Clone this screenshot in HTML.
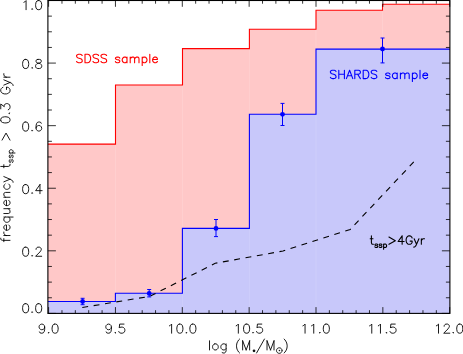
<!DOCTYPE html>
<html><head><meta charset="utf-8"><title>plot</title>
<style>html,body{margin:0;padding:0;background:#fff;font-family:"Liberation Sans",sans-serif;}svg{display:block}</style></head>
<body>
<svg width="463" height="354" viewBox="0 0 463 354">
<rect width="463" height="354" fill="#fff"/>
<path d="M47.9 313.4 L47.9 144.1 L115.5 144.1 L115.5 85.0 L182.5 85.0 L182.5 48.6 L249.4 48.6 L249.4 29.2 L316.0 29.2 L316.0 10.2 L382.5 10.2 L382.5 4.3 L449.9 4.3 L449.9 313.4 Z" fill="#ffc8c8"/>
<line x1="115.5" y1="144.1" x2="115.5" y2="313.4" stroke="#ffd1d1" stroke-width="0.8"/>
<line x1="182.5" y1="85.0" x2="182.5" y2="313.4" stroke="#ffd1d1" stroke-width="0.8"/>
<line x1="249.4" y1="48.6" x2="249.4" y2="313.4" stroke="#ffd1d1" stroke-width="0.8"/>
<line x1="316.0" y1="29.2" x2="316.0" y2="313.4" stroke="#ffd1d1" stroke-width="0.8"/>
<line x1="382.5" y1="10.2" x2="382.5" y2="313.4" stroke="#ffd1d1" stroke-width="0.8"/>
<path d="M47.9 313.4 L47.9 301.5 L115.4 301.5 L115.4 293.3 L182.4 293.3 L182.4 228.4 L249.4 228.4 L249.4 114.3 L316.0 114.3 L316.0 49.1 L449.9 49.1 L449.9 313.4 Z" fill="#c8c8fa"/>
<line x1="115.4" y1="301.5" x2="115.4" y2="313.4" stroke="#cfcffa" stroke-width="0.8"/>
<line x1="182.4" y1="293.3" x2="182.4" y2="313.4" stroke="#cfcffa" stroke-width="0.8"/>
<line x1="249.4" y1="228.4" x2="249.4" y2="313.4" stroke="#cfcffa" stroke-width="0.8"/>
<line x1="316.0" y1="114.3" x2="316.0" y2="313.4" stroke="#cfcffa" stroke-width="0.8"/>
<path d="M47.9 144.1 L115.5 144.1 L115.5 85.0 L182.5 85.0 L182.5 48.6 L249.4 48.6 L249.4 29.2 L316.0 29.2 L316.0 10.2 L382.5 10.2 L382.5 4.3 L449.9 4.3" fill="none" stroke="#ff0000" stroke-width="1.1"/>
<path d="M47.9 301.5 L115.4 301.5 L115.4 293.3 L182.4 293.3 L182.4 228.4 L249.4 228.4 L249.4 114.3 L316.0 114.3 L316.0 49.1 L449.9 49.1" fill="none" stroke="#0000ff" stroke-width="1.1"/>
<path d="M82.3 307.5 L149.6 296.4 L215.2 263.3 L283.0 251.0 L350.2 229.4 L416.5 159.0" fill="none" stroke="#000" stroke-width="1.1" stroke-dasharray="5.9 5.6"/>
<path d="M82.6 298.3 V304.7 M80.6 298.3 H84.6 M80.6 304.7 H84.6" stroke="#0000ff" stroke-width="1" fill="none"/>
<circle cx="82.6" cy="301.5" r="2.4" fill="#0000ff"/>
<path d="M149.2 289.5 V296.9 M147.2 289.5 H151.2 M147.2 296.9 H151.2" stroke="#0000ff" stroke-width="1" fill="none"/>
<circle cx="149.2" cy="293.4" r="2.4" fill="#0000ff"/>
<path d="M216.0 219.5 V236.6 M214.0 219.5 H218.0 M214.0 236.6 H218.0" stroke="#0000ff" stroke-width="1" fill="none"/>
<circle cx="216.0" cy="228.4" r="2.4" fill="#0000ff"/>
<path d="M282.5 103.4 V125.5 M280.5 103.4 H284.5 M280.5 125.5 H284.5" stroke="#0000ff" stroke-width="1" fill="none"/>
<circle cx="282.5" cy="114.3" r="2.4" fill="#0000ff"/>
<path d="M382.5 38.0 V62.9 M380.5 38.0 H384.5 M380.5 62.9 H384.5" stroke="#0000ff" stroke-width="1" fill="none"/>
<circle cx="382.5" cy="49.0" r="2.4" fill="#0000ff"/>
<rect x="47.9" y="0.5" width="402.0" height="312.9" fill="none" stroke="#000" stroke-width="1.1"/>
<path d="M48.60 313.40 v-6.30 M48.60 0.50 v6.30 M61.97 313.40 v-3.20 M61.97 0.50 v3.20 M75.34 313.40 v-3.20 M75.34 0.50 v3.20 M88.71 313.40 v-3.20 M88.71 0.50 v3.20 M102.08 313.40 v-3.20 M102.08 0.50 v3.20 M115.45 313.40 v-6.30 M115.45 0.50 v6.30 M128.82 313.40 v-3.20 M128.82 0.50 v3.20 M142.19 313.40 v-3.20 M142.19 0.50 v3.20 M155.56 313.40 v-3.20 M155.56 0.50 v3.20 M168.93 313.40 v-3.20 M168.93 0.50 v3.20 M182.30 313.40 v-6.30 M182.30 0.50 v6.30 M195.67 313.40 v-3.20 M195.67 0.50 v3.20 M209.04 313.40 v-3.20 M209.04 0.50 v3.20 M222.41 313.40 v-3.20 M222.41 0.50 v3.20 M235.78 313.40 v-3.20 M235.78 0.50 v3.20 M249.15 313.40 v-6.30 M249.15 0.50 v6.30 M262.52 313.40 v-3.20 M262.52 0.50 v3.20 M275.89 313.40 v-3.20 M275.89 0.50 v3.20 M289.26 313.40 v-3.20 M289.26 0.50 v3.20 M302.63 313.40 v-3.20 M302.63 0.50 v3.20 M316.00 313.40 v-6.30 M316.00 0.50 v6.30 M329.37 313.40 v-3.20 M329.37 0.50 v3.20 M342.74 313.40 v-3.20 M342.74 0.50 v3.20 M356.11 313.40 v-3.20 M356.11 0.50 v3.20 M369.48 313.40 v-3.20 M369.48 0.50 v3.20 M382.85 313.40 v-6.30 M382.85 0.50 v6.30 M396.22 313.40 v-3.20 M396.22 0.50 v3.20 M409.59 313.40 v-3.20 M409.59 0.50 v3.20 M422.96 313.40 v-3.20 M422.96 0.50 v3.20 M436.33 313.40 v-3.20 M436.33 0.50 v3.20 M449.70 313.40 v-6.30 M449.70 0.50 v6.30 M47.90 313.40 h8.00 M449.90 313.40 h-8.00 M47.90 297.75 h4.00 M449.90 297.75 h-4.00 M47.90 282.11 h4.00 M449.90 282.11 h-4.00 M47.90 266.46 h4.00 M449.90 266.46 h-4.00 M47.90 250.82 h8.00 M449.90 250.82 h-8.00 M47.90 235.17 h4.00 M449.90 235.17 h-4.00 M47.90 219.53 h4.00 M449.90 219.53 h-4.00 M47.90 203.88 h4.00 M449.90 203.88 h-4.00 M47.90 188.24 h8.00 M449.90 188.24 h-8.00 M47.90 172.59 h4.00 M449.90 172.59 h-4.00 M47.90 156.95 h4.00 M449.90 156.95 h-4.00 M47.90 141.31 h4.00 M449.90 141.31 h-4.00 M47.90 125.66 h8.00 M449.90 125.66 h-8.00 M47.90 110.01 h4.00 M449.90 110.01 h-4.00 M47.90 94.37 h4.00 M449.90 94.37 h-4.00 M47.90 78.72 h4.00 M449.90 78.72 h-4.00 M47.90 63.08 h8.00 M449.90 63.08 h-8.00 M47.90 47.44 h4.00 M449.90 47.44 h-4.00 M47.90 31.79 h4.00 M449.90 31.79 h-4.00 M47.90 16.14 h4.00 M449.90 16.14 h-4.00 M47.90 0.50 h8.00 M449.90 0.50 h-8.00" fill="none" stroke="#000" stroke-width="0.8"/>
<path d="M44.69 327.12 L44.26 328.43 L43.39 329.29 L42.09 329.73 L41.66 329.73 L40.35 329.29 L39.49 328.43 L39.05 327.12 L39.05 326.69 L39.49 325.39 L40.35 324.52 L41.66 324.09 L42.09 324.09 L43.39 324.52 L44.26 325.39 L44.69 327.12 L44.69 329.29 L44.26 331.46 L43.39 332.77 L42.09 333.20 L41.22 333.20 L39.92 332.77 L39.49 331.90 M48.60 332.33 L48.17 332.77 L48.60 333.20 L49.03 332.77 L48.60 332.33 M54.68 324.09 L53.37 324.52 L52.51 325.82 L52.07 327.99 L52.07 329.29 L52.51 331.46 L53.37 332.77 L54.68 333.20 L55.54 333.20 L56.85 332.77 L57.71 331.46 L58.15 329.29 L58.15 327.99 L57.71 325.82 L56.85 324.52 L55.54 324.09 L54.68 324.09 M111.41 327.12 L110.98 328.43 L110.11 329.29 L108.81 329.73 L108.38 329.73 L107.07 329.29 L106.21 328.43 L105.77 327.12 L105.77 326.69 L106.21 325.39 L107.07 324.52 L108.38 324.09 L108.81 324.09 L110.11 324.52 L110.98 325.39 L111.41 327.12 L111.41 329.29 L110.98 331.46 L110.11 332.77 L108.81 333.20 L107.94 333.20 L106.64 332.77 L106.21 331.90 M115.32 332.33 L114.89 332.77 L115.32 333.20 L115.75 332.77 L115.32 332.33 M124.00 324.09 L119.66 324.09 L119.23 327.99 L119.66 327.56 L120.96 327.12 L122.26 327.12 L123.57 327.56 L124.43 328.43 L124.87 329.73 L124.87 330.60 L124.43 331.90 L123.57 332.77 L122.26 333.20 L120.96 333.20 L119.66 332.77 L119.23 332.33 L118.79 331.46 M169.45 325.82 L170.32 325.39 L171.62 324.09 L171.62 333.20 M179.44 324.09 L178.13 324.52 L177.27 325.82 L176.83 327.99 L176.83 329.29 L177.27 331.46 L178.13 332.77 L179.44 333.20 L180.30 333.20 L181.61 332.77 L182.47 331.46 L182.91 329.29 L182.91 327.99 L182.47 325.82 L181.61 324.52 L180.30 324.09 L179.44 324.09 M186.38 332.33 L185.95 332.77 L186.38 333.20 L186.81 332.77 L186.38 332.33 M192.46 324.09 L191.15 324.52 L190.29 325.82 L189.85 327.99 L189.85 329.29 L190.29 331.46 L191.15 332.77 L192.46 333.20 L193.32 333.20 L194.63 332.77 L195.49 331.46 L195.93 329.29 L195.93 327.99 L195.49 325.82 L194.63 324.52 L193.32 324.09 L192.46 324.09 M236.17 325.82 L237.04 325.39 L238.34 324.09 L238.34 333.20 M246.16 324.09 L244.85 324.52 L243.99 325.82 L243.55 327.99 L243.55 329.29 L243.99 331.46 L244.85 332.77 L246.16 333.20 L247.02 333.20 L248.33 332.77 L249.19 331.46 L249.63 329.29 L249.63 327.99 L249.19 325.82 L248.33 324.52 L247.02 324.09 L246.16 324.09 M253.10 332.33 L252.67 332.77 L253.10 333.20 L253.53 332.77 L253.10 332.33 M261.78 324.09 L257.44 324.09 L257.01 327.99 L257.44 327.56 L258.74 327.12 L260.04 327.12 L261.35 327.56 L262.21 328.43 L262.65 329.73 L262.65 330.60 L262.21 331.90 L261.35 332.77 L260.04 333.20 L258.74 333.20 L257.44 332.77 L257.01 332.33 L256.57 331.46 M302.89 325.82 L303.76 325.39 L305.06 324.09 L305.06 333.20 M311.57 325.82 L312.44 325.39 L313.74 324.09 L313.74 333.20 M319.82 332.33 L319.39 332.77 L319.82 333.20 L320.25 332.77 L319.82 332.33 M325.90 324.09 L324.59 324.52 L323.73 325.82 L323.29 327.99 L323.29 329.29 L323.73 331.46 L324.59 332.77 L325.90 333.20 L326.76 333.20 L328.07 332.77 L328.93 331.46 L329.37 329.29 L329.37 327.99 L328.93 325.82 L328.07 324.52 L326.76 324.09 L325.90 324.09 M369.61 325.82 L370.48 325.39 L371.78 324.09 L371.78 333.20 M378.29 325.82 L379.16 325.39 L380.46 324.09 L380.46 333.20 M386.54 332.33 L386.11 332.77 L386.54 333.20 L386.97 332.77 L386.54 332.33 M395.22 324.09 L390.88 324.09 L390.45 327.99 L390.88 327.56 L392.18 327.12 L393.48 327.12 L394.79 327.56 L395.65 328.43 L396.09 329.73 L396.09 330.60 L395.65 331.90 L394.79 332.77 L393.48 333.20 L392.18 333.20 L390.88 332.77 L390.45 332.33 L390.01 331.46 M436.33 325.82 L437.20 325.39 L438.50 324.09 L438.50 333.20 M444.15 326.26 L444.15 325.82 L444.58 324.95 L445.01 324.52 L445.88 324.09 L447.62 324.09 L448.49 324.52 L448.92 324.95 L449.35 325.82 L449.35 326.69 L448.92 327.56 L448.05 328.86 L443.71 333.20 L449.79 333.20 M453.26 332.33 L452.83 332.77 L453.26 333.20 L453.69 332.77 L453.26 332.33 M459.34 324.09 L458.03 324.52 L457.17 325.82 L456.73 327.99 L456.73 329.29 L457.17 331.46 L458.03 332.77 L459.34 333.20 L460.20 333.20 L461.51 332.77 L462.37 331.46 L462.81 329.29 L462.81 327.99 L462.37 325.82 L461.51 324.52 L460.20 324.09 L459.34 324.09 M25.21 303.69 L23.90 304.12 L23.04 305.42 L22.60 307.59 L22.60 308.89 L23.04 311.06 L23.90 312.37 L25.21 312.80 L26.07 312.80 L27.38 312.37 L28.24 311.06 L28.68 308.89 L28.68 307.59 L28.24 305.42 L27.38 304.12 L26.07 303.69 L25.21 303.69 M32.15 311.93 L31.72 312.37 L32.15 312.80 L32.58 312.37 L32.15 311.93 M38.23 303.69 L36.92 304.12 L36.06 305.42 L35.62 307.59 L35.62 308.89 L36.06 311.06 L36.92 312.37 L38.23 312.80 L39.09 312.80 L40.40 312.37 L41.26 311.06 L41.70 308.89 L41.70 307.59 L41.26 305.42 L40.40 304.12 L39.09 303.69 L38.23 303.69 M25.21 247.16 L23.90 247.59 L23.04 248.89 L22.60 251.06 L22.60 252.36 L23.04 254.53 L23.90 255.84 L25.21 256.27 L26.07 256.27 L27.38 255.84 L28.24 254.53 L28.68 252.36 L28.68 251.06 L28.24 248.89 L27.38 247.59 L26.07 247.16 L25.21 247.16 M32.15 255.40 L31.72 255.84 L32.15 256.27 L32.58 255.84 L32.15 255.40 M36.06 249.33 L36.06 248.89 L36.49 248.02 L36.92 247.59 L37.79 247.16 L39.53 247.16 L40.40 247.59 L40.83 248.02 L41.26 248.89 L41.26 249.76 L40.83 250.63 L39.96 251.93 L35.62 256.27 L41.70 256.27 M25.21 184.58 L23.90 185.01 L23.04 186.31 L22.60 188.48 L22.60 189.78 L23.04 191.95 L23.90 193.26 L25.21 193.69 L26.07 193.69 L27.38 193.26 L28.24 191.95 L28.68 189.78 L28.68 188.48 L28.24 186.31 L27.38 185.01 L26.07 184.58 L25.21 184.58 M32.15 192.82 L31.72 193.26 L32.15 193.69 L32.58 193.26 L32.15 192.82 M39.96 184.58 L35.62 190.65 L42.13 190.65 M39.96 184.58 L39.96 193.69 M25.21 122.00 L23.90 122.43 L23.04 123.73 L22.60 125.90 L22.60 127.20 L23.04 129.37 L23.90 130.68 L25.21 131.11 L26.07 131.11 L27.38 130.68 L28.24 129.37 L28.68 127.20 L28.68 125.90 L28.24 123.73 L27.38 122.43 L26.07 122.00 L25.21 122.00 M32.15 130.24 L31.72 130.68 L32.15 131.11 L32.58 130.68 L32.15 130.24 M41.26 123.30 L40.83 122.43 L39.53 122.00 L38.66 122.00 L37.36 122.43 L36.49 123.73 L36.06 125.90 L36.06 128.07 L36.49 129.81 L37.36 130.68 L38.66 131.11 L39.09 131.11 L40.40 130.68 L41.26 129.81 L41.70 128.51 L41.70 128.07 L41.26 126.77 L40.40 125.90 L39.09 125.47 L38.66 125.47 L37.36 125.90 L36.49 126.77 L36.06 128.07 M25.21 59.42 L23.90 59.85 L23.04 61.15 L22.60 63.32 L22.60 64.62 L23.04 66.79 L23.90 68.10 L25.21 68.53 L26.07 68.53 L27.38 68.10 L28.24 66.79 L28.68 64.62 L28.68 63.32 L28.24 61.15 L27.38 59.85 L26.07 59.42 L25.21 59.42 M32.15 67.66 L31.72 68.10 L32.15 68.53 L32.58 68.10 L32.15 67.66 M37.79 59.42 L36.49 59.85 L36.06 60.72 L36.06 61.59 L36.49 62.45 L37.36 62.89 L39.09 63.32 L40.40 63.76 L41.26 64.62 L41.70 65.49 L41.70 66.79 L41.26 67.66 L40.83 68.10 L39.53 68.53 L37.79 68.53 L36.49 68.10 L36.06 67.66 L35.62 66.79 L35.62 65.49 L36.06 64.62 L36.92 63.76 L38.23 63.32 L39.96 62.89 L40.83 62.45 L41.26 61.59 L41.26 60.72 L40.83 59.85 L39.53 59.42 L37.79 59.42 M23.90 2.32 L24.77 1.89 L26.07 0.59 L26.07 9.70 M32.15 8.83 L31.72 9.27 L32.15 9.70 L32.58 9.27 L32.15 8.83 M38.23 0.59 L36.92 1.02 L36.06 2.32 L35.62 4.49 L35.62 5.79 L36.06 7.96 L36.92 9.27 L38.23 9.70 L39.09 9.70 L40.40 9.27 L41.26 7.96 L41.70 5.79 L41.70 4.49 L41.26 2.32 L40.40 1.02 L39.09 0.59 L38.23 0.59" fill="none" stroke="#000" stroke-width="0.9" stroke-linecap="round" stroke-linejoin="round"/>
<path d="M209.52 340.79 L209.52 349.95 M214.75 343.85 L213.88 344.28 L213.00 345.15 L212.57 346.46 L212.57 347.33 L213.00 348.64 L213.88 349.51 L214.75 349.95 L216.06 349.95 L216.93 349.51 L217.80 348.64 L218.24 347.33 L218.24 346.46 L217.80 345.15 L216.93 344.28 L216.06 343.85 L214.75 343.85 M226.08 343.85 L226.08 350.82 L225.65 352.13 L225.21 352.57 L224.34 353.00 L223.03 353.00 L222.16 352.57 M226.08 345.15 L225.21 344.28 L224.34 343.85 L223.03 343.85 L222.16 344.28 L221.29 345.15 L220.85 346.46 L220.85 347.33 L221.29 348.64 L222.16 349.51 L223.03 349.95 L224.34 349.95 L225.21 349.51 L226.08 348.64 M239.60 339.05 L238.73 339.92 L237.86 341.23 L236.98 342.97 L236.55 345.15 L236.55 346.90 L236.98 349.08 L237.86 350.82 L238.73 352.13 L239.60 353.00 M242.65 340.79 L242.65 349.95 M242.65 340.79 L246.14 349.95 M249.63 340.79 L246.14 349.95 M249.63 340.79 L249.63 349.95 M264.42 339.05 L256.57 353.00 M267.03 340.79 L267.03 349.95 M267.03 340.79 L270.52 349.95 M274.01 340.79 L270.52 349.95 M274.01 340.79 L274.01 349.95 M282.05 350.57 L281.96 351.29 L281.68 351.96 L281.23 352.54 L280.66 352.98 L279.99 353.26 L279.27 353.35 L278.54 353.26 L277.87 352.98 L277.30 352.54 L276.86 351.96 L276.58 351.29 L276.48 350.57 L276.58 349.85 L276.86 349.18 L277.30 348.60 L277.87 348.16 L278.54 347.88 L279.27 347.78 L279.99 347.88 L280.66 348.16 L281.23 348.60 L281.68 349.18 L281.96 349.85 L282.05 350.57 M279.59 350.57 L279.50 350.80 L279.27 350.89 L279.04 350.80 L278.94 350.57 L279.04 350.34 L279.27 350.24 L279.50 350.34 L279.59 350.57 M284.09 339.05 L284.96 339.92 L285.83 341.23 L286.70 342.97 L287.14 345.15 L287.14 346.90 L286.70 349.08 L285.83 350.82 L284.96 352.13 L284.09 353.00" fill="none" stroke="#000" stroke-width="0.9" stroke-linecap="round" stroke-linejoin="round"/>
<circle cx="254.03" cy="350.87" r="1.35" fill="#111"/>
<path transform="translate(10.0 157.9) rotate(-90)" d="M-80.27 -9.24 L-81.15 -9.24 L-82.03 -8.80 L-82.47 -7.48 L-82.47 0.00 M-83.79 -6.16 L-80.71 -6.16 M-77.63 -6.16 L-77.63 0.00 M-77.63 -3.52 L-77.19 -4.84 L-76.31 -5.72 L-75.43 -6.16 L-74.11 -6.16 M-72.35 -3.52 L-67.07 -3.52 L-67.07 -4.40 L-67.51 -5.28 L-67.95 -5.72 L-68.83 -6.16 L-70.15 -6.16 L-71.03 -5.72 L-71.91 -4.84 L-72.35 -3.52 L-72.35 -2.64 L-71.91 -1.32 L-71.03 -0.44 L-70.15 0.00 L-68.83 0.00 L-67.95 -0.44 L-67.07 -1.32 M-59.15 -6.16 L-59.15 3.08 M-59.15 -4.84 L-60.03 -5.72 L-60.91 -6.16 L-62.23 -6.16 L-63.11 -5.72 L-63.99 -4.84 L-64.43 -3.52 L-64.43 -2.64 L-63.99 -1.32 L-63.11 -0.44 L-62.23 0.00 L-60.91 0.00 L-60.03 -0.44 L-59.15 -1.32 M-55.63 -6.16 L-55.63 -1.76 L-55.19 -0.44 L-54.31 0.00 L-52.99 0.00 L-52.11 -0.44 L-50.79 -1.76 M-50.79 -6.16 L-50.79 0.00 M-47.71 -3.52 L-42.43 -3.52 L-42.43 -4.40 L-42.87 -5.28 L-43.31 -5.72 L-44.19 -6.16 L-45.51 -6.16 L-46.39 -5.72 L-47.27 -4.84 L-47.71 -3.52 L-47.71 -2.64 L-47.27 -1.32 L-46.39 -0.44 L-45.51 0.00 L-44.19 0.00 L-43.31 -0.44 L-42.43 -1.32 M-39.35 -6.16 L-39.35 0.00 M-39.35 -4.40 L-38.03 -5.72 L-37.15 -6.16 L-35.83 -6.16 L-34.95 -5.72 L-34.51 -4.40 L-34.51 0.00 M-26.15 -4.84 L-27.03 -5.72 L-27.91 -6.16 L-29.23 -6.16 L-30.11 -5.72 L-30.99 -4.84 L-31.43 -3.52 L-31.43 -2.64 L-30.99 -1.32 L-30.11 -0.44 L-29.23 0.00 L-27.91 0.00 L-27.03 -0.44 L-26.15 -1.32 M-23.95 -6.16 L-21.31 0.00 M-18.67 -6.16 L-21.31 0.00 L-22.19 1.76 L-23.07 2.64 L-23.95 3.08 L-24.39 3.08 M-8.55 -9.24 L-8.55 -1.76 L-8.11 -0.44 L-7.23 0.00 L-6.35 0.00 M-9.87 -6.16 L-6.79 -6.16 M-1.65 0.08 L-1.92 -0.47 L-2.74 -0.74 L-3.56 -0.74 L-4.38 -0.47 L-4.65 0.08 L-4.38 0.62 L-3.83 0.90 L-2.47 1.17 L-1.92 1.44 L-1.65 1.99 L-1.65 2.26 L-1.92 2.81 L-2.74 3.08 L-3.56 3.08 L-4.38 2.81 L-4.65 2.26 M2.99 0.08 L2.71 -0.47 L1.90 -0.74 L1.08 -0.74 L0.26 -0.47 L-0.01 0.08 L0.26 0.62 L0.81 0.90 L2.17 1.17 L2.71 1.44 L2.99 1.99 L2.99 2.26 L2.71 2.81 L1.90 3.08 L1.08 3.08 L0.26 2.81 L-0.01 2.26 M4.90 -0.74 L4.90 4.99 M4.90 0.08 L5.44 -0.47 L5.99 -0.74 L6.81 -0.74 L7.35 -0.47 L7.90 0.08 L8.17 0.90 L8.17 1.44 L7.90 2.26 L7.35 2.81 L6.81 3.08 L5.99 3.08 L5.44 2.81 L4.90 2.26 M17.79 -7.92 L24.83 -3.96 L17.79 0.00 M37.59 -9.24 L36.27 -8.80 L35.39 -7.48 L34.95 -5.28 L34.95 -3.96 L35.39 -1.76 L36.27 -0.44 L37.59 0.00 L38.47 0.00 L39.79 -0.44 L40.67 -1.76 L41.11 -3.96 L41.11 -5.28 L40.67 -7.48 L39.79 -8.80 L38.47 -9.24 L37.59 -9.24 M44.63 -0.88 L44.19 -0.44 L44.63 0.00 L45.07 -0.44 L44.63 -0.88 M49.03 -9.24 L53.87 -9.24 L51.23 -5.72 L52.55 -5.72 L53.43 -5.28 L53.87 -4.84 L54.31 -3.52 L54.31 -2.64 L53.87 -1.32 L52.99 -0.44 L51.67 0.00 L50.35 0.00 L49.03 -0.44 L48.59 -0.88 L48.15 -1.76 M70.59 -7.04 L70.15 -7.92 L69.27 -8.80 L68.39 -9.24 L66.63 -9.24 L65.75 -8.80 L64.87 -7.92 L64.43 -7.04 L63.99 -5.72 L63.99 -3.52 L64.43 -2.20 L64.87 -1.32 L65.75 -0.44 L66.63 0.00 L68.39 0.00 L69.27 -0.44 L70.15 -1.32 L70.59 -2.20 L70.59 -3.52 M68.39 -3.52 L70.59 -3.52 M72.79 -6.16 L75.43 0.00 M78.07 -6.16 L75.43 0.00 L74.55 1.76 L73.67 2.64 L72.79 3.08 L72.35 3.08 M80.71 -6.16 L80.71 0.00 M80.71 -3.52 L81.15 -4.84 L82.03 -5.72 L82.91 -6.16 L84.23 -6.16" fill="none" stroke="#000" stroke-width="0.9" stroke-linecap="round" stroke-linejoin="round"/>
<path d="M82.20 55.50 L81.40 54.70 L80.20 54.30 L78.60 54.30 L77.40 54.70 L76.60 55.50 L76.60 56.30 L77.00 57.10 L77.40 57.50 L78.20 57.90 L80.60 58.70 L81.40 59.10 L81.80 59.50 L82.20 60.30 L82.20 61.50 L81.40 62.30 L80.20 62.70 L78.60 62.70 L77.40 62.30 L76.60 61.50 M85.00 54.30 L85.00 62.70 M85.00 54.30 L87.80 54.30 L89.00 54.70 L89.80 55.50 L90.20 56.30 L90.60 57.50 L90.60 59.50 L90.20 60.70 L89.80 61.50 L89.00 62.30 L87.80 62.70 L85.00 62.70 M98.60 55.50 L97.80 54.70 L96.60 54.30 L95.00 54.30 L93.80 54.70 L93.00 55.50 L93.00 56.30 L93.40 57.10 L93.80 57.50 L94.60 57.90 L97.00 58.70 L97.80 59.10 L98.20 59.50 L98.60 60.30 L98.60 61.50 L97.80 62.30 L96.60 62.70 L95.00 62.70 L93.80 62.30 L93.00 61.50 M106.60 55.50 L105.80 54.70 L104.60 54.30 L103.00 54.30 L101.80 54.70 L101.00 55.50 L101.00 56.30 L101.40 57.10 L101.80 57.50 L102.60 57.90 L105.00 58.70 L105.80 59.10 L106.20 59.50 L106.60 60.30 L106.60 61.50 L105.80 62.30 L104.60 62.70 L103.00 62.70 L101.80 62.30 L101.00 61.50 M119.80 58.30 L119.40 57.50 L118.20 57.10 L117.00 57.10 L115.80 57.50 L115.40 58.30 L115.80 59.10 L116.60 59.50 L118.60 59.90 L119.40 60.30 L119.80 61.10 L119.80 61.50 L119.40 62.30 L118.20 62.70 L117.00 62.70 L115.80 62.30 L115.40 61.50 M127.00 57.10 L127.00 62.70 M127.00 58.30 L126.20 57.50 L125.40 57.10 L124.20 57.10 L123.40 57.50 L122.60 58.30 L122.20 59.50 L122.20 60.30 L122.60 61.50 L123.40 62.30 L124.20 62.70 L125.40 62.70 L126.20 62.30 L127.00 61.50 M130.20 57.10 L130.20 62.70 M130.20 58.70 L131.40 57.50 L132.20 57.10 L133.40 57.10 L134.20 57.50 L134.60 58.70 L134.60 62.70 M134.60 58.70 L135.80 57.50 L136.60 57.10 L137.80 57.10 L138.60 57.50 L139.00 58.70 L139.00 62.70 M142.20 57.10 L142.20 65.50 M142.20 58.30 L143.00 57.50 L143.80 57.10 L145.00 57.10 L145.80 57.50 L146.60 58.30 L147.00 59.50 L147.00 60.30 L146.60 61.50 L145.80 62.30 L145.00 62.70 L143.80 62.70 L143.00 62.30 L142.20 61.50 M149.80 54.30 L149.80 62.70 M152.60 59.50 L157.40 59.50 L157.40 58.70 L157.00 57.90 L156.60 57.50 L155.80 57.10 L154.60 57.10 L153.80 57.50 L153.00 58.30 L152.60 59.50 L152.60 60.30 L153.00 61.50 L153.80 62.30 L154.60 62.70 L155.80 62.70 L156.60 62.30 L157.40 61.50" fill="none" stroke="#ff0000" stroke-width="1.1" stroke-linecap="round" stroke-linejoin="round"/>
<path d="M336.00 71.40 L335.20 70.60 L334.00 70.20 L332.40 70.20 L331.20 70.60 L330.40 71.40 L330.40 72.20 L330.80 73.00 L331.20 73.40 L332.00 73.80 L334.40 74.60 L335.20 75.00 L335.60 75.40 L336.00 76.20 L336.00 77.40 L335.20 78.20 L334.00 78.60 L332.40 78.60 L331.20 78.20 L330.40 77.40 M338.80 70.20 L338.80 78.60 M344.40 70.20 L344.40 78.60 M338.80 74.20 L344.40 74.20 M349.60 70.20 L346.40 78.60 M349.60 70.20 L352.80 78.60 M347.60 75.80 L351.60 75.80 M354.80 70.20 L354.80 78.60 M354.80 70.20 L358.40 70.20 L359.60 70.60 L360.00 71.00 L360.40 71.80 L360.40 72.60 L360.00 73.40 L359.60 73.80 L358.40 74.20 L354.80 74.20 M357.60 74.20 L360.40 78.60 M363.20 70.20 L363.20 78.60 M363.20 70.20 L366.00 70.20 L367.20 70.60 L368.00 71.40 L368.40 72.20 L368.80 73.40 L368.80 75.40 L368.40 76.60 L368.00 77.40 L367.20 78.20 L366.00 78.60 L363.20 78.60 M376.80 71.40 L376.00 70.60 L374.80 70.20 L373.20 70.20 L372.00 70.60 L371.20 71.40 L371.20 72.20 L371.60 73.00 L372.00 73.40 L372.80 73.80 L375.20 74.60 L376.00 75.00 L376.40 75.40 L376.80 76.20 L376.80 77.40 L376.00 78.20 L374.80 78.60 L373.20 78.60 L372.00 78.20 L371.20 77.40 M390.00 74.20 L389.60 73.40 L388.40 73.00 L387.20 73.00 L386.00 73.40 L385.60 74.20 L386.00 75.00 L386.80 75.40 L388.80 75.80 L389.60 76.20 L390.00 77.00 L390.00 77.40 L389.60 78.20 L388.40 78.60 L387.20 78.60 L386.00 78.20 L385.60 77.40 M397.20 73.00 L397.20 78.60 M397.20 74.20 L396.40 73.40 L395.60 73.00 L394.40 73.00 L393.60 73.40 L392.80 74.20 L392.40 75.40 L392.40 76.20 L392.80 77.40 L393.60 78.20 L394.40 78.60 L395.60 78.60 L396.40 78.20 L397.20 77.40 M400.40 73.00 L400.40 78.60 M400.40 74.60 L401.60 73.40 L402.40 73.00 L403.60 73.00 L404.40 73.40 L404.80 74.60 L404.80 78.60 M404.80 74.60 L406.00 73.40 L406.80 73.00 L408.00 73.00 L408.80 73.40 L409.20 74.60 L409.20 78.60 M412.40 73.00 L412.40 81.40 M412.40 74.20 L413.20 73.40 L414.00 73.00 L415.20 73.00 L416.00 73.40 L416.80 74.20 L417.20 75.40 L417.20 76.20 L416.80 77.40 L416.00 78.20 L415.20 78.60 L414.00 78.60 L413.20 78.20 L412.40 77.40 M420.00 70.20 L420.00 78.60 M422.80 75.40 L427.60 75.40 L427.60 74.60 L427.20 73.80 L426.80 73.40 L426.00 73.00 L424.80 73.00 L424.00 73.40 L423.20 74.20 L422.80 75.40 L422.80 76.20 L423.20 77.40 L424.00 78.20 L424.80 78.60 L426.00 78.60 L426.80 78.20 L427.60 77.40" fill="none" stroke="#0000ff" stroke-width="1.1" stroke-linecap="round" stroke-linejoin="round"/>
<path d="M371.40 235.90 L371.40 242.70 L371.80 243.90 L372.60 244.30 L373.40 244.30 M370.20 238.70 L373.00 238.70 M377.67 244.77 L377.42 244.28 L376.68 244.03 L375.94 244.03 L375.19 244.28 L374.94 244.77 L375.19 245.27 L375.69 245.52 L376.93 245.76 L377.42 246.01 L377.67 246.51 L377.67 246.76 L377.42 247.25 L376.68 247.50 L375.94 247.50 L375.19 247.25 L374.94 246.76 M381.89 244.77 L381.64 244.28 L380.90 244.03 L380.15 244.03 L379.41 244.28 L379.16 244.77 L379.41 245.27 L379.90 245.52 L381.14 245.76 L381.64 246.01 L381.89 246.51 L381.89 246.76 L381.64 247.25 L380.90 247.50 L380.15 247.50 L379.41 247.25 L379.16 246.76 M383.62 244.03 L383.62 249.24 M383.62 244.77 L384.12 244.28 L384.62 244.03 L385.36 244.03 L385.86 244.28 L386.35 244.77 L386.60 245.52 L386.60 246.01 L386.35 246.76 L385.86 247.25 L385.36 247.50 L384.62 247.50 L384.12 247.25 L383.62 246.76 M388.94 237.10 L395.34 240.70 L388.94 244.30 M402.14 235.90 L398.14 241.50 L404.14 241.50 M402.14 235.90 L402.14 244.30 M412.14 237.90 L411.74 237.10 L410.94 236.30 L410.14 235.90 L408.54 235.90 L407.74 236.30 L406.94 237.10 L406.54 237.90 L406.14 239.10 L406.14 241.10 L406.54 242.30 L406.94 243.10 L407.74 243.90 L408.54 244.30 L410.14 244.30 L410.94 243.90 L411.74 243.10 L412.14 242.30 L412.14 241.10 M410.14 241.10 L412.14 241.10 M414.14 238.70 L416.54 244.30 M418.94 238.70 L416.54 244.30 L415.74 245.90 L414.94 246.70 L414.14 247.10 L413.74 247.10 M421.34 238.70 L421.34 244.30 M421.34 241.10 L421.74 239.90 L422.54 239.10 L423.34 238.70 L424.54 238.70" fill="none" stroke="#000" stroke-width="1.1" stroke-linecap="round" stroke-linejoin="round"/>
</svg>
</body></html>
